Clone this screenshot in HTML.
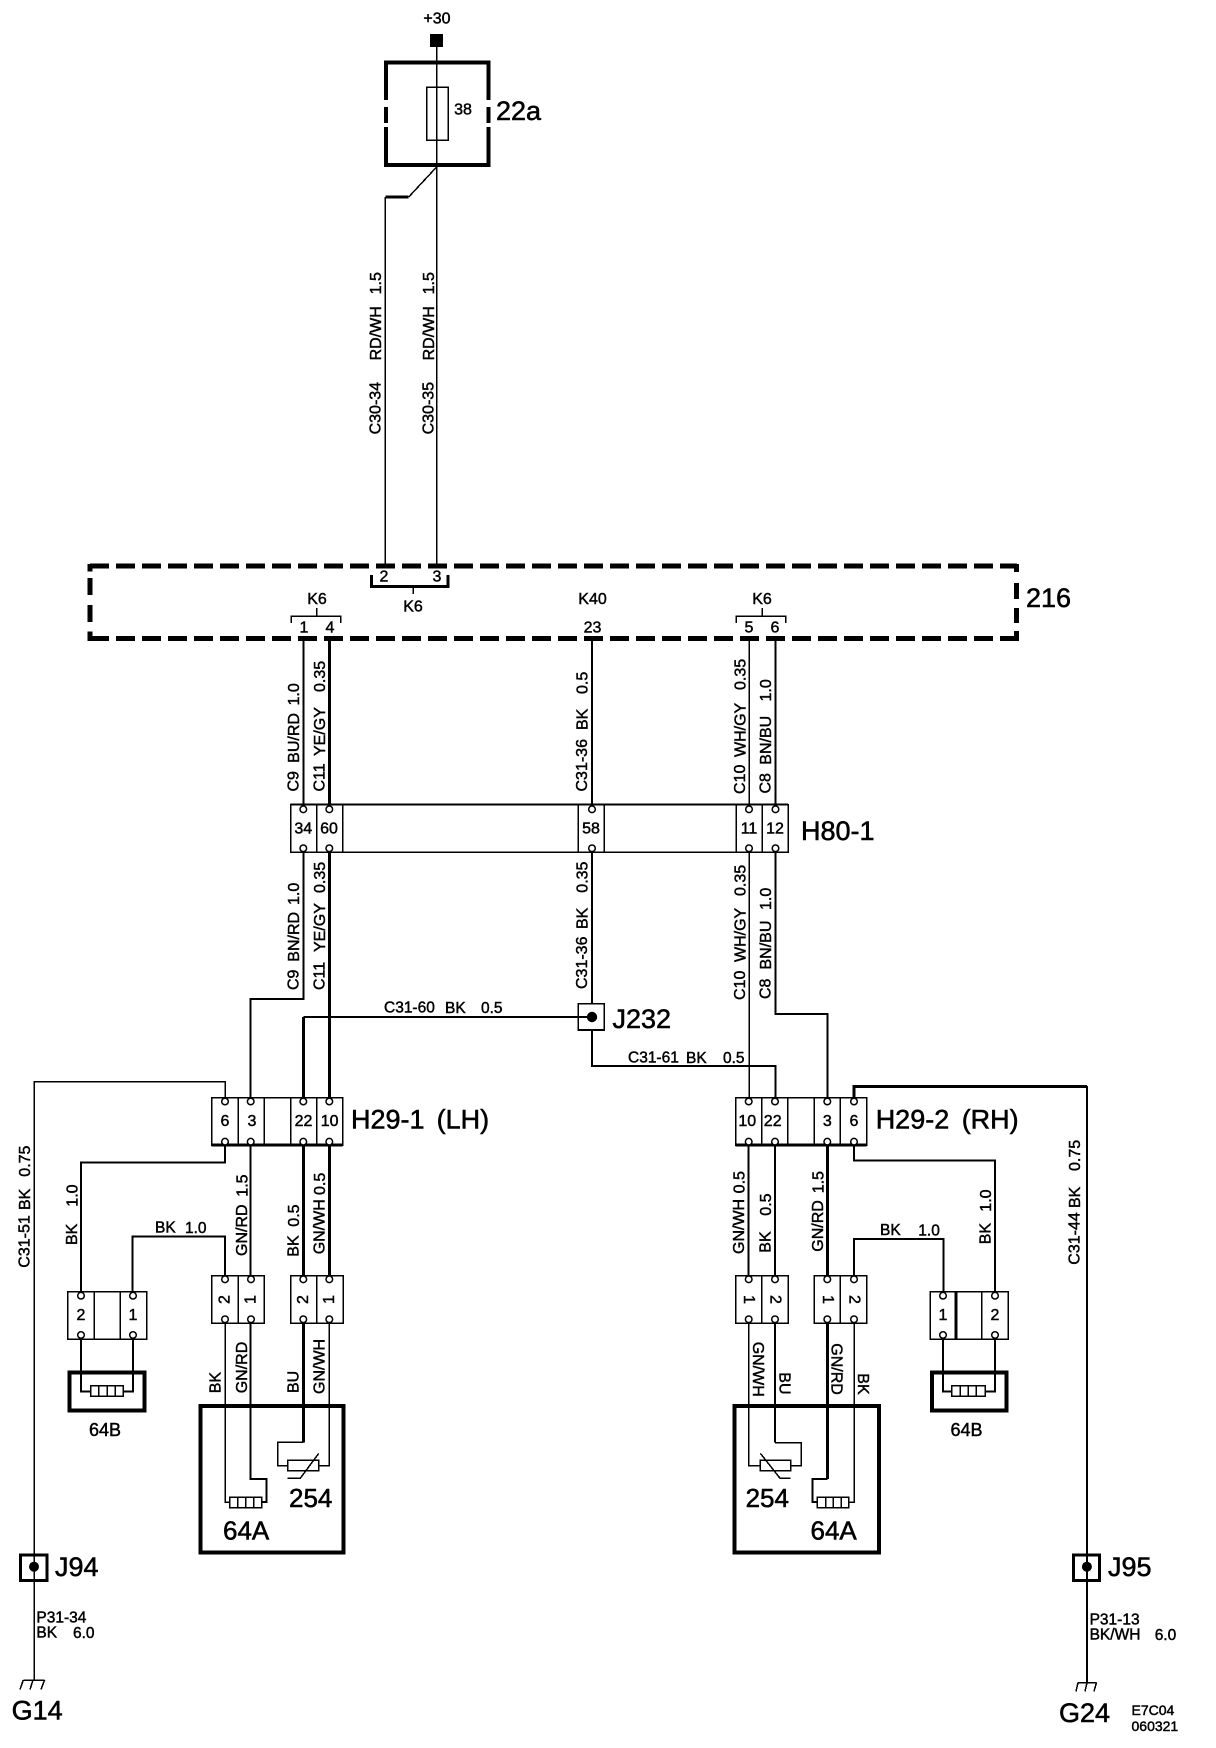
<!DOCTYPE html>
<html><head><meta charset="utf-8"><style>
html,body{margin:0;padding:0;background:#fff}
svg{display:block}
text{font-family:"Liberation Sans",sans-serif;fill:#000;dominant-baseline:central;stroke:#000;stroke-width:.45}
.s{font-size:16px}.h{font-size:15.5px}.m{font-size:16px;text-anchor:middle}.l{font-size:27px;stroke-width:.55}
.a{text-anchor:middle}
path,rect{fill:none;stroke:#000;shape-rendering:crispEdges}
.w{stroke-width:1.5}.n{stroke-width:2}.t{stroke-width:3}.b{stroke-width:4}
circle{fill:#fff;stroke:#000;stroke-width:1.5}
circle.d{fill:#000;stroke:none}
</style></head><body>
<svg width="1216" height="1748" viewBox="0 0 1216 1748" xmlns="http://www.w3.org/2000/svg">
<rect x="0" y="0" width="1216" height="1748" style="fill:#fff;stroke:none"/>

<!-- top -->
<text class="m" x="437" y="19">+30</text>
<rect x="430" y="34" width="13" height="13" style="fill:#000;stroke:none"/>
<path class="b" d="M386 100V62.500H488.500V100M386 107V123M488.500 107V123M386 127V165H488.500V127"/>
<path class="w" d="M436.600 47V566"/>
<rect class="w" x="426.500" y="87" width="21.500" height="53"/>
<text class="m" x="463" y="110">38</text>
<text class="l" x="496" y="111">22a</text>
<path class="w" d="M436.600 167L408.700 197"/>
<path class="t" d="M408.700 197H385.400"/>
<path class="w" d="M385.400 197V566"/>
<text class="s" transform="translate(376,434.400) rotate(-90)">C30-34<tspan x="74">RD/WH</tspan><tspan x="140">1.5</tspan></text>
<text class="s" transform="translate(429,434.400) rotate(-90)">C30-35<tspan x="74">RD/WH</tspan><tspan x="140">1.5</tspan></text>

<!-- module 216 -->
<path d="M90 566H1017" style="stroke-width:5;stroke-dasharray:19 7"/>
<path d="M90 638.500H1017" style="stroke-width:5;stroke-dasharray:19 7"/>
<path d="M90 564V571.500M90 578V595M90 605V622M90 631.500V641M1016.700 564V572M1016.700 583V599M1016.700 608V623M1016.700 631V641" style="stroke-width:5"/>
<text class="l" x="1026" y="598">216</text>
<text class="m" x="384" y="577">2</text><text class="m" x="437" y="577">3</text>
<path class="t" d="M371.500 575V586.500H448V575"/><path class="w" d="M413 587V594"/>
<text class="m" x="413" y="607">K6</text>
<text class="m" x="317" y="599.400">K6</text><text class="m" x="592.500" y="599.400">K40</text><text class="m" x="762" y="599.400">K6</text>
<path class="w" d="M291 623V616H340.500V623M316.500 608V616M736 623V616H785.600V623M762 608V616"/>
<text class="m" x="304" y="628">1</text><text class="m" x="330" y="628">4</text><text class="m" x="592.500" y="628">23</text><text class="m" x="749" y="628">5</text><text class="m" x="775" y="628">6</text>

<!-- wires 216 to H80 -->
<path class="n" d="M303.300 640V806M592 640V806M775.500 640V806"/>
<path class="t" d="M329.300 640V806"/>
<path class="w" d="M749 640V806"/>
<text class="s" transform="translate(294,791.500) rotate(-90)">C9<tspan x="28.700">BU/RD</tspan><tspan x="86">1.0</tspan></text>
<text class="s" transform="translate(320,791.500) rotate(-90)">C11<tspan x="35.500">YE/GY</tspan><tspan x="99.500">0.35</tspan></text>
<text class="s" transform="translate(582.700,791.500) rotate(-90)">C31-36<tspan x="61.500">BK</tspan><tspan x="97.500">0.5</tspan></text>
<text class="s" transform="translate(740.600,794) rotate(-90)">C10<tspan x="37">WH/GY</tspan><tspan x="104">0.35</tspan></text>
<text class="s" transform="translate(766,793.500) rotate(-90)">C8<tspan x="28.800">BN/BU</tspan><tspan x="92">1.0</tspan></text>

<!-- H80-1 -->
<path class="n" d="M290.700 804.700H788"/>
<rect class="w" x="290.700" y="804.700" width="497.300" height="47.300"/>
<path class="w" d="M316.700 805V852M342.700 805V852M578.300 805V852M604.300 805V852M736 805V852M762.300 805V852"/>
<g><circle cx="303.300" cy="809.300" r="3.300"/><circle cx="329.300" cy="809.300" r="3.300"/><circle cx="592" cy="809.300" r="3.300"/><circle cx="749" cy="809.300" r="3.300"/><circle cx="775.500" cy="809.300" r="3.300"/>
<circle cx="303.300" cy="848.300" r="3.300"/><circle cx="329.300" cy="848.300" r="3.300"/><circle cx="592" cy="848.300" r="3.300"/><circle cx="749" cy="848.300" r="3.300"/><circle cx="775.500" cy="848.300" r="3.300"/></g>
<text class="m" x="303.300" y="829">34</text><text class="m" x="329" y="829">60</text><text class="m" x="591" y="829">58</text><text class="m" x="749" y="829">11</text><text class="m" x="775" y="829">12</text>
<text class="l" x="801" y="831">H80-1</text>

<!-- wires H80 to H29 -->
<path class="n" d="M303.300 851V999H250.500V1099M303.300 1017H592M827.300 1099V1014H775.500V851"/>
<path class="t" d="M329.300 851V1099M303.300 1017V1099"/>
<path class="w" d="M749 851V1099"/>
<path class="n" d="M592 851V1004M592 1030V1066H775.500V1099"/>
<text class="s" transform="translate(294,990) rotate(-90)">C9<tspan x="28.300">BN/RD</tspan><tspan x="85">1.0</tspan></text>
<text class="s" transform="translate(320,990) rotate(-90)">C11<tspan x="38">YE/GY</tspan><tspan x="97">0.35</tspan></text>
<text class="s" transform="translate(582.700,989) rotate(-90)">C31-36<tspan x="60">BK</tspan><tspan x="96.300">0.35</tspan></text>
<text class="s" transform="translate(740.600,1000) rotate(-90)">C10<tspan x="38">WH/GY</tspan><tspan x="104">0.35</tspan></text>
<text class="s" transform="translate(766,999) rotate(-90)">C8<tspan x="29.500">BN/BU</tspan><tspan x="89">1.0</tspan></text>
<text class="h" x="384" y="1008">C31-60<tspan x="445">BK</tspan><tspan x="481">0.5</tspan></text>
<text class="h" x="628" y="1058">C31-61<tspan x="686">BK</tspan><tspan x="723">0.5</tspan></text>
<rect class="w" x="578.300" y="1003.500" width="26" height="26.500"/>
<path class="n" d="M578.300 1030H604.300"/>
<circle class="d" cx="592" cy="1017" r="5.200"/>
<text class="l" x="612.500" y="1019">J232</text>

<!-- H29 connectors -->
<rect class="w" x="211.700" y="1097.700" width="131" height="47.300"/>
<path class="t" d="M211.700 1145H342.700M735.700 1145H866.700"/>
<path class="w" d="M238 1098V1145M264.400 1098V1145M290.800 1098V1145M316.700 1098V1145"/>
<rect class="w" x="735.700" y="1097.700" width="131" height="47.300"/>
<path class="w" d="M761.700 1098V1145M787.700 1098V1145M814 1098V1145M840 1098V1145"/>
<path class="w" d="M225 1098V1081.600H34V1680"/>
<path class="t" d="M854 1098V1086.700H1086.900"/>
<path class="n" d="M1086.900 1086V1682"/>
<path class="n" d="M225 1144V1162.700H81V1292"/>
<path class="n" d="M854 1144V1160.700H995V1292"/>
<path class="n" d="M250.700 1144V1276"/>
<path class="t" d="M303.300 1144V1276M329.300 1144V1276M827.300 1144V1276"/>
<path class="n" d="M748.700 1144V1276M775 1144V1276"/>
<g>
<circle cx="225" cy="1101.500" r="3.300"/><circle cx="250.700" cy="1101.500" r="3.300"/><circle cx="303.300" cy="1101.500" r="3.300"/><circle cx="329.300" cy="1101.500" r="3.300"/>
<circle cx="225" cy="1141.700" r="3.300"/><circle cx="250.700" cy="1141.700" r="3.300"/><circle cx="303.300" cy="1141.700" r="3.300"/><circle cx="329.300" cy="1141.700" r="3.300"/>
<circle cx="748.700" cy="1101.500" r="3.300"/><circle cx="775" cy="1101.500" r="3.300"/><circle cx="827.300" cy="1101.500" r="3.300"/><circle cx="854" cy="1101.500" r="3.300"/>
<circle cx="748.700" cy="1141.700" r="3.300"/><circle cx="775" cy="1141.700" r="3.300"/><circle cx="827.300" cy="1141.700" r="3.300"/><circle cx="854" cy="1141.700" r="3.300"/>
</g>
<text class="m" x="225" y="1121.700">6</text><text class="m" x="252" y="1121.700">3</text><text class="m" x="303.500" y="1121.700">22</text><text class="m" x="329.600" y="1121.700">10</text>
<text class="m" x="747.300" y="1121.700">10</text><text class="m" x="772.700" y="1121.700">22</text><text class="m" x="827.300" y="1121.700">3</text><text class="m" x="854" y="1121.700">6</text>
<text class="l" x="351" y="1119.500">H29-1<tspan x="436.600">(LH)</tspan></text>
<text class="l" x="875.700" y="1119.500">H29-2<tspan x="961.700">(RH)</tspan></text>

<!-- left vertical labels -->
<text class="s" transform="translate(25,1267.700) rotate(-90)">C31-51<tspan x="57.700">BK</tspan><tspan x="91">0.75</tspan></text>
<text class="s" transform="translate(72.700,1245) rotate(-90)">BK<tspan x="38.300">1.0</tspan></text>
<text class="s" transform="translate(242.300,1256) rotate(-90)">GN/RD<tspan x="59.300">1.5</tspan></text>
<text class="s" transform="translate(294,1256.700) rotate(-90)">BK<tspan x="30">0.5</tspan></text>
<text class="s" transform="translate(320,1254.300) rotate(-90)">GN/WH<tspan x="59.300">0.5</tspan></text>
<text class="h" x="155" y="1228">BK<tspan x="185">1.0</tspan></text>
<path class="n" d="M132.700 1292V1236.700H225V1276"/>

<!-- left connectors -->
<rect class="w" x="67.700" y="1291.700" width="79" height="47.300"/>
<path class="w" d="M94.300 1292V1339M120 1292V1339"/>
<rect class="w" x="211.700" y="1275.700" width="52.600" height="47.300"/>
<path class="w" d="M238 1276V1323"/>
<rect class="w" x="290.800" y="1275.700" width="52.400" height="47.300"/>
<path class="w" d="M316.700 1276V1323"/>
<circle cx="81" cy="1295.700" r="3.300"/><circle cx="133" cy="1295.700" r="3.300"/><circle cx="81" cy="1335" r="3.300"/><circle cx="133" cy="1335" r="3.300"/>
<circle cx="225" cy="1279.300" r="3.300"/><circle cx="251" cy="1279.300" r="3.300"/><circle cx="303.300" cy="1279.300" r="3.300"/><circle cx="329.300" cy="1279.300" r="3.300"/>
<text class="m" x="81" y="1315.700">2</text><text class="m" x="133" y="1315.700">1</text>
<text class="m" transform="translate(225,1299.500) rotate(-90)">2</text><text class="m" transform="translate(251,1299.500) rotate(-90)">1</text>
<text class="m" transform="translate(303.300,1299.500) rotate(-90)">2</text><text class="m" transform="translate(329.300,1299.500) rotate(-90)">1</text>

<!-- left 64B -->
<rect class="b" x="69.700" y="1372.700" width="75" height="38"/>
<path class="n" d="M81 1338V1391.700H90.700M123.300 1391.700H133V1338"/>
<rect class="w" x="90.700" y="1385.700" width="32.600" height="10.300"/>
<path class="w" d="M98.500 1386V1396M107 1386V1396M115 1386V1396"/>
<text class="a" x="105" y="1430" style="font-size:18px">64B</text>

<!-- left sensor -->
<rect class="b" x="200.700" y="1406" width="142.800" height="146.500"/>
<path class="w" d="M225 1322V1502H229.500"/>
<path class="n" d="M250.700 1322V1479H266.400V1502H261.700"/>
<rect class="w" x="229.500" y="1497" width="32.200" height="10.700"/>
<path class="w" d="M237.500 1497V1508M245.500 1497V1508M253.500 1497V1508"/>
<path class="t" d="M303.300 1322V1442.300"/>
<path class="w" d="M303.300 1442.300H277.700V1465.600H287.700M329.300 1322V1465.600H318.700"/>
<rect class="w" x="287.700" y="1460.300" width="31" height="10.300"/>
<path class="w" d="M318.700 1453.400L300.500 1478H287.700"/>
<circle cx="225" cy="1319.300" r="3.300"/><circle cx="251" cy="1319.300" r="3.300"/><circle cx="303.300" cy="1319.300" r="3.300"/><circle cx="329.300" cy="1319.300" r="3.300"/>
<text class="s" transform="translate(216,1393.300) rotate(-90)">BK</text>
<text class="s" transform="translate(242.300,1393.300) rotate(-90)">GN/RD</text>
<text class="s" transform="translate(294,1393) rotate(-90)">BU</text>
<text class="s" transform="translate(320,1394) rotate(-90)">GN/WH</text>
<text class="l" x="289" y="1498" style="font-size:26px">254</text>
<text class="l" x="223" y="1530.700" style="font-size:26px">64A</text>

<!-- J94 / G14 -->
<rect class="t" x="20.500" y="1555" width="26.500" height="25.500"/>
<circle class="d" cx="34" cy="1566.700" r="5"/>
<text class="l" x="55" y="1567">J94</text>
<text class="h" x="36.400" y="1618">P31-34</text>
<text class="h" x="36.400" y="1633">BK<tspan x="73">6.0</tspan></text>
<path class="w" d="M23.300 1680H44.600M23.300 1680L20 1689.500M33 1680L30 1689.500M44.600 1680L41 1689.500"/>
<text class="l" x="11.600" y="1710.600">G14</text>

<!-- right vertical labels -->
<text class="s" transform="translate(1075,1264.700) rotate(-90)">C31-44<tspan x="56.700">BK</tspan><tspan x="93.700">0.75</tspan></text>
<text class="s" transform="translate(739.300,1254) rotate(-90)">GN/WH<tspan x="60.700">0.5</tspan></text>
<text class="s" transform="translate(766,1252.700) rotate(-90)">BK<tspan x="37">0.5</tspan></text>
<text class="s" transform="translate(818.300,1251.700) rotate(-90)">GN/RD<tspan x="58.400">1.5</tspan></text>
<text class="s" transform="translate(986,1244.300) rotate(-90)">BK<tspan x="32.600">1.0</tspan></text>
<text class="h" x="880" y="1230.700">BK<tspan x="918.300">1.0</tspan></text>
<path class="n" d="M854 1276V1239H943.300V1292"/>

<!-- right connectors -->
<rect class="w" x="735.700" y="1275.700" width="52.600" height="47.300"/>
<path class="w" d="M761.700 1276V1323"/>
<rect class="w" x="814" y="1275.700" width="52.700" height="47.300"/>
<path class="w" d="M840 1276V1323"/>
<rect class="w" x="930" y="1291.700" width="78.300" height="47.300"/>
<path class="t" d="M956 1292V1339"/><path class="w" d="M981.700 1292V1339"/>
<circle cx="943" cy="1295.700" r="3.300"/><circle cx="995" cy="1295.700" r="3.300"/><circle cx="943" cy="1335" r="3.300"/><circle cx="995" cy="1335" r="3.300"/>
<circle cx="748.700" cy="1279.300" r="3.300"/><circle cx="775" cy="1279.300" r="3.300"/><circle cx="827.300" cy="1279.300" r="3.300"/><circle cx="854" cy="1279.300" r="3.300"/>
<text class="m" x="943" y="1315.700">1</text><text class="m" x="995" y="1315.700">2</text>
<text class="m" transform="translate(748.700,1299.500) rotate(90)">1</text><text class="m" transform="translate(775,1299.500) rotate(90)">2</text>
<text class="m" transform="translate(827.300,1299.500) rotate(90)">1</text><text class="m" transform="translate(854,1299.500) rotate(90)">2</text>

<!-- right 64B -->
<rect class="b" x="932" y="1372.700" width="74.300" height="37.600"/>
<path class="n" d="M943 1338V1391.700H951.700M985 1391.700H995V1338"/>
<rect class="w" x="951.700" y="1385.700" width="33.300" height="10.300"/>
<path class="w" d="M960 1386V1396M968 1386V1396M976 1386V1396"/>
<text class="a" x="966.500" y="1430" style="font-size:18px">64B</text>

<!-- right sensor -->
<rect class="b" x="734.500" y="1406" width="144.500" height="146.500"/>
<path class="w" d="M748.700 1322V1465.600H760.400"/>
<path class="n" d="M775 1322V1442.700"/>
<path class="w" d="M775 1442.700H801V1465.600H790.600"/>
<rect class="w" x="760.400" y="1460.300" width="30.200" height="10.300"/>
<path class="w" d="M760.400 1453.400L779.800 1478H790.600"/>
<path class="t" d="M827.300 1322V1479"/>
<path class="n" d="M827.300 1479H812.700V1502H817.400"/>
<rect class="w" x="817.400" y="1497" width="31.400" height="10.700"/>
<path class="w" d="M825.500 1497V1508M833 1497V1508M841 1497V1508M848.800 1502H854V1322"/>
<circle cx="748.700" cy="1319.300" r="3.300"/><circle cx="775" cy="1319.300" r="3.300"/><circle cx="827.300" cy="1319.300" r="3.300"/><circle cx="854" cy="1319.300" r="3.300"/>
<text class="s" transform="translate(757.300,1341.700) rotate(90)">GN/WH</text>
<text class="s" transform="translate(784,1372.300) rotate(90)">BU</text>
<text class="s" transform="translate(836,1343.300) rotate(90)">GN/RD</text>
<text class="s" transform="translate(862.700,1373.300) rotate(90)">BK</text>
<text class="l" x="745.600" y="1498" style="font-size:26px">254</text>
<text class="l" x="810.500" y="1530.700" style="font-size:26px">64A</text>

<!-- J95 / G24 -->
<rect class="t" x="1073.500" y="1555" width="26" height="25.500"/>
<circle class="d" cx="1086.900" cy="1566.700" r="5"/>
<text class="l" x="1108" y="1567">J95</text>
<text class="h" x="1089.600" y="1620">P31-13</text>
<text class="h" x="1089.600" y="1635">BK/WH<tspan x="1154.700">6.0</tspan></text>
<path class="w" d="M1078 1682.600H1096.500M1078 1682.600L1076 1691.400M1087 1682.600L1085 1691.400M1096.500 1682.600L1094 1691.400"/>
<text class="l" x="1059" y="1713">G24</text>
<text x="1131.500" y="1710" style="font-size:14px">E7C04</text>
<text x="1131.500" y="1726" style="font-size:14px">060321</text>
</svg>
</body></html>
